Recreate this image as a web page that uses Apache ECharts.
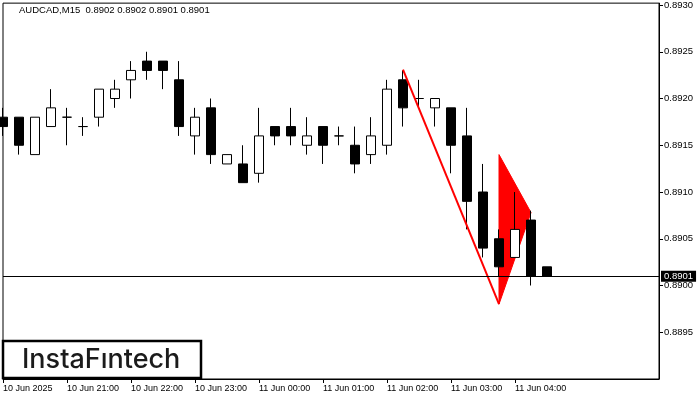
<!DOCTYPE html>
<html>
<head>
<meta charset="utf-8">
<script src="https://cdn.jsdelivr.net/npm/echarts@6/dist/echarts.min.js"></script>
<style>
html,body{margin:0;padding:0;background:#fff;}
#chart{width:700px;height:400px;}
</style>
</head>
<body>
<div id="chart"></div>
<script>
// 15-minute bars, 10 Jun 20:00 .. 11 Jun 04:30, plus empty future slots
var times = [
  '10 Jun 20:00','10 Jun 20:15','10 Jun 20:30','10 Jun 20:45',
  '10 Jun 21:00','10 Jun 21:15','10 Jun 21:30','10 Jun 21:45',
  '10 Jun 22:00','10 Jun 22:15','10 Jun 22:30','10 Jun 22:45',
  '10 Jun 23:00','10 Jun 23:15','10 Jun 23:30','10 Jun 23:45',
  '11 Jun 00:00','11 Jun 00:15','11 Jun 00:30','11 Jun 00:45',
  '11 Jun 01:00','11 Jun 01:15','11 Jun 01:30','11 Jun 01:45',
  '11 Jun 02:00','11 Jun 02:15','11 Jun 02:30','11 Jun 02:45',
  '11 Jun 03:00','11 Jun 03:15','11 Jun 03:30','11 Jun 03:45',
  '11 Jun 04:00','11 Jun 04:15','11 Jun 04:30','11 Jun 04:45',
  '11 Jun 05:00','11 Jun 05:15','11 Jun 05:30','11 Jun 05:45',
  '11 Jun 06:00','11 Jun 06:15'
];
var openP  = [0.8918,0.8918,0.8914,0.8917,0.8918,0.8917,0.8918,0.8920,0.8922,0.8924,0.8924,0.8922,0.8916,0.8919,0.8913,0.8913,0.8912,0.8917,0.8917,0.8915,0.8917,0.8916,0.8915,0.8914,0.8915,0.8922,0.8920,0.8919,0.8919,0.8916,0.8910,0.8905,0.8903,0.8907,0.8902];
var highP  = [0.8919,0.8918,0.8918,0.8921,0.8919,0.8918,0.8921,0.8922,0.8924,0.8925,0.8924,0.8924,0.8919,0.8920,0.8914,0.8915,0.8919,0.8917,0.8919,0.8918,0.8917,0.8917,0.8917,0.8918,0.8922,0.8923,0.8922,0.8920,0.8919,0.8919,0.8913,0.8906,0.8910,0.8908,0.8902];
var lowP   = [0.8916,0.8914,0.8914,0.8917,0.8915,0.8916,0.8917,0.8919,0.8920,0.8922,0.8921,0.8916,0.8914,0.8913,0.8913,0.8911,0.8911,0.8915,0.8915,0.8914,0.8913,0.8915,0.8912,0.8913,0.8914,0.8917,0.8919,0.8917,0.8912,0.8906,0.8903,0.8901,0.8903,0.8900,0.8901];
var closeP = [0.8917,0.8915,0.8918,0.8919,0.8918,0.8917,0.8921,0.8921,0.8923,0.8923,0.8923,0.8917,0.8918,0.8914,0.8914,0.8911,0.8916,0.8916,0.8916,0.8916,0.8915,0.8916,0.8913,0.8916,0.8921,0.8919,0.8920,0.8920,0.8915,0.8909,0.8904,0.8902,0.8906,0.8901,0.8901];

var xTickIndex  = [0,4,8,12,16,20,24,28,32];
var xTickLabels = ['10 Jun 2025','10 Jun 21:00','10 Jun 22:00','10 Jun 23:00','11 Jun 00:00','11 Jun 01:00','11 Jun 02:00','11 Jun 03:00','11 Jun 04:00'];
var yTicks = [0.8895,0.8900,0.8905,0.8910,0.8915,0.8920,0.8925,0.8930];

var lastPrice = 0.8901;
var titleText = 'AUDCAD,M15  0.8902 0.8902 0.8901 0.8901';

// pennant pattern: pole line and flag triangle
var poleX = [25, 31];
var poleY = [0.89231, 0.88980];
var flagX = [31, 33, 31];
var flagY = [0.89140, 0.89078, 0.88980];

var candleData = openP.map(function (o, i) { return [o, closeP[i], lowP[i], highP[i]]; });

var FONT = 'Liberation Sans, Arial, sans-serif';
var chart = echarts.init(document.getElementById('chart'), null, {renderer: 'canvas'});
chart.setOption({
  animation: false,
  backgroundColor: '#fff',
  grid: {left: 3, right: 41, top: 2, bottom: 21, show: true, borderColor: '#000', borderWidth: 1, backgroundColor: 'transparent'},
  xAxis: {
    type: 'category',
    data: times,
    boundaryGap: false,
    axisLine: {show: true, lineStyle: {color: '#000', width: 1}},
    axisTick: {show: true, length: 4, lineStyle: {color: '#000'},
      interval: function (i) { return xTickIndex.indexOf(i) >= 0; }},
    axisLabel: {
      interval: function (i) { return xTickIndex.indexOf(i) >= 0; },
      formatter: function (v, i) { var k = xTickIndex.indexOf(i); return k >= 0 ? xTickLabels[k] : ''; },
      align: 'left', margin: 5, color: '#000', fontSize: 9, fontFamily: FONT
    },
    splitLine: {show: false}
  },
  yAxis: {
    type: 'value',
    position: 'right',
    min: 0.8890, max: 0.89302,
    scale: true,
    axisLine: {show: true, lineStyle: {color: '#000', width: 1}},
    axisTick: {show: true, length: 4, inside: false, lineStyle: {color: '#000'}, customValues: yTicks},
    axisLabel: {color: '#000', fontSize: 9.5, fontFamily: FONT, margin: 5, customValues: yTicks,
      formatter: function (v) { return v.toFixed(4); }},
    splitLine: {show: false}
  },
  graphic: [
    {type: 'text', left: 19, top: 5, z: 50, style: {text: titleText, fill: '#000', font: '9.5px ' + FONT}},
    {type: 'rect', z: 60, shape: {x: 3, y: 341, width: 198, height: 37},
      style: {fill: '#fff', stroke: '#000', lineWidth: 2.5}},
    {type: 'text', z: 61, x: 22, y: 359.5, style: {text: 'InstaF\u0131ntech', fill: '#1b1b1b', font: '500 27px Inter, Lato, sans-serif', textVerticalAlign: 'middle'}}
  ],
  series: [
    {
      type: 'custom',
      z: 1,
      silent: true,
      data: [[flagX[0], flagY[0]]],
      renderItem: function (params, api) {
        var pts = flagX.map(function (x, i) { return api.coord([x, flagY[i]]); });
        return {type: 'polygon', shape: {points: pts}, style: {fill: '#ff0000', stroke: '#ff0000', lineWidth: 1}};
      }
    },
    {
      type: 'candlestick',
      z: 2,
      data: candleData,
      barWidth: 10,
      itemStyle: {color: '#fff', color0: '#000', borderColor: '#000', borderColor0: '#000', borderWidth: 1},
      markLine: {
        silent: true,
        precision: 4,
        symbol: ['none', 'none'],
        lineStyle: {color: '#000', width: 1, type: 'solid'},
        label: {position: 'end', distance: 2, formatter: lastPrice.toFixed(4), color: '#fff', backgroundColor: '#000',
          padding: [1, 3, 0, 3], fontSize: 9.5, fontFamily: FONT},
        data: [{yAxis: lastPrice}]
      }
    },
    {
      type: 'line',
      z: 3,
      data: poleX.map(function (x, i) { return [x, poleY[i]]; }),
      symbol: 'none',
      lineStyle: {color: '#ff0000', width: 2},
      silent: true
    }
  ]
});
</script>
</body>
</html>
